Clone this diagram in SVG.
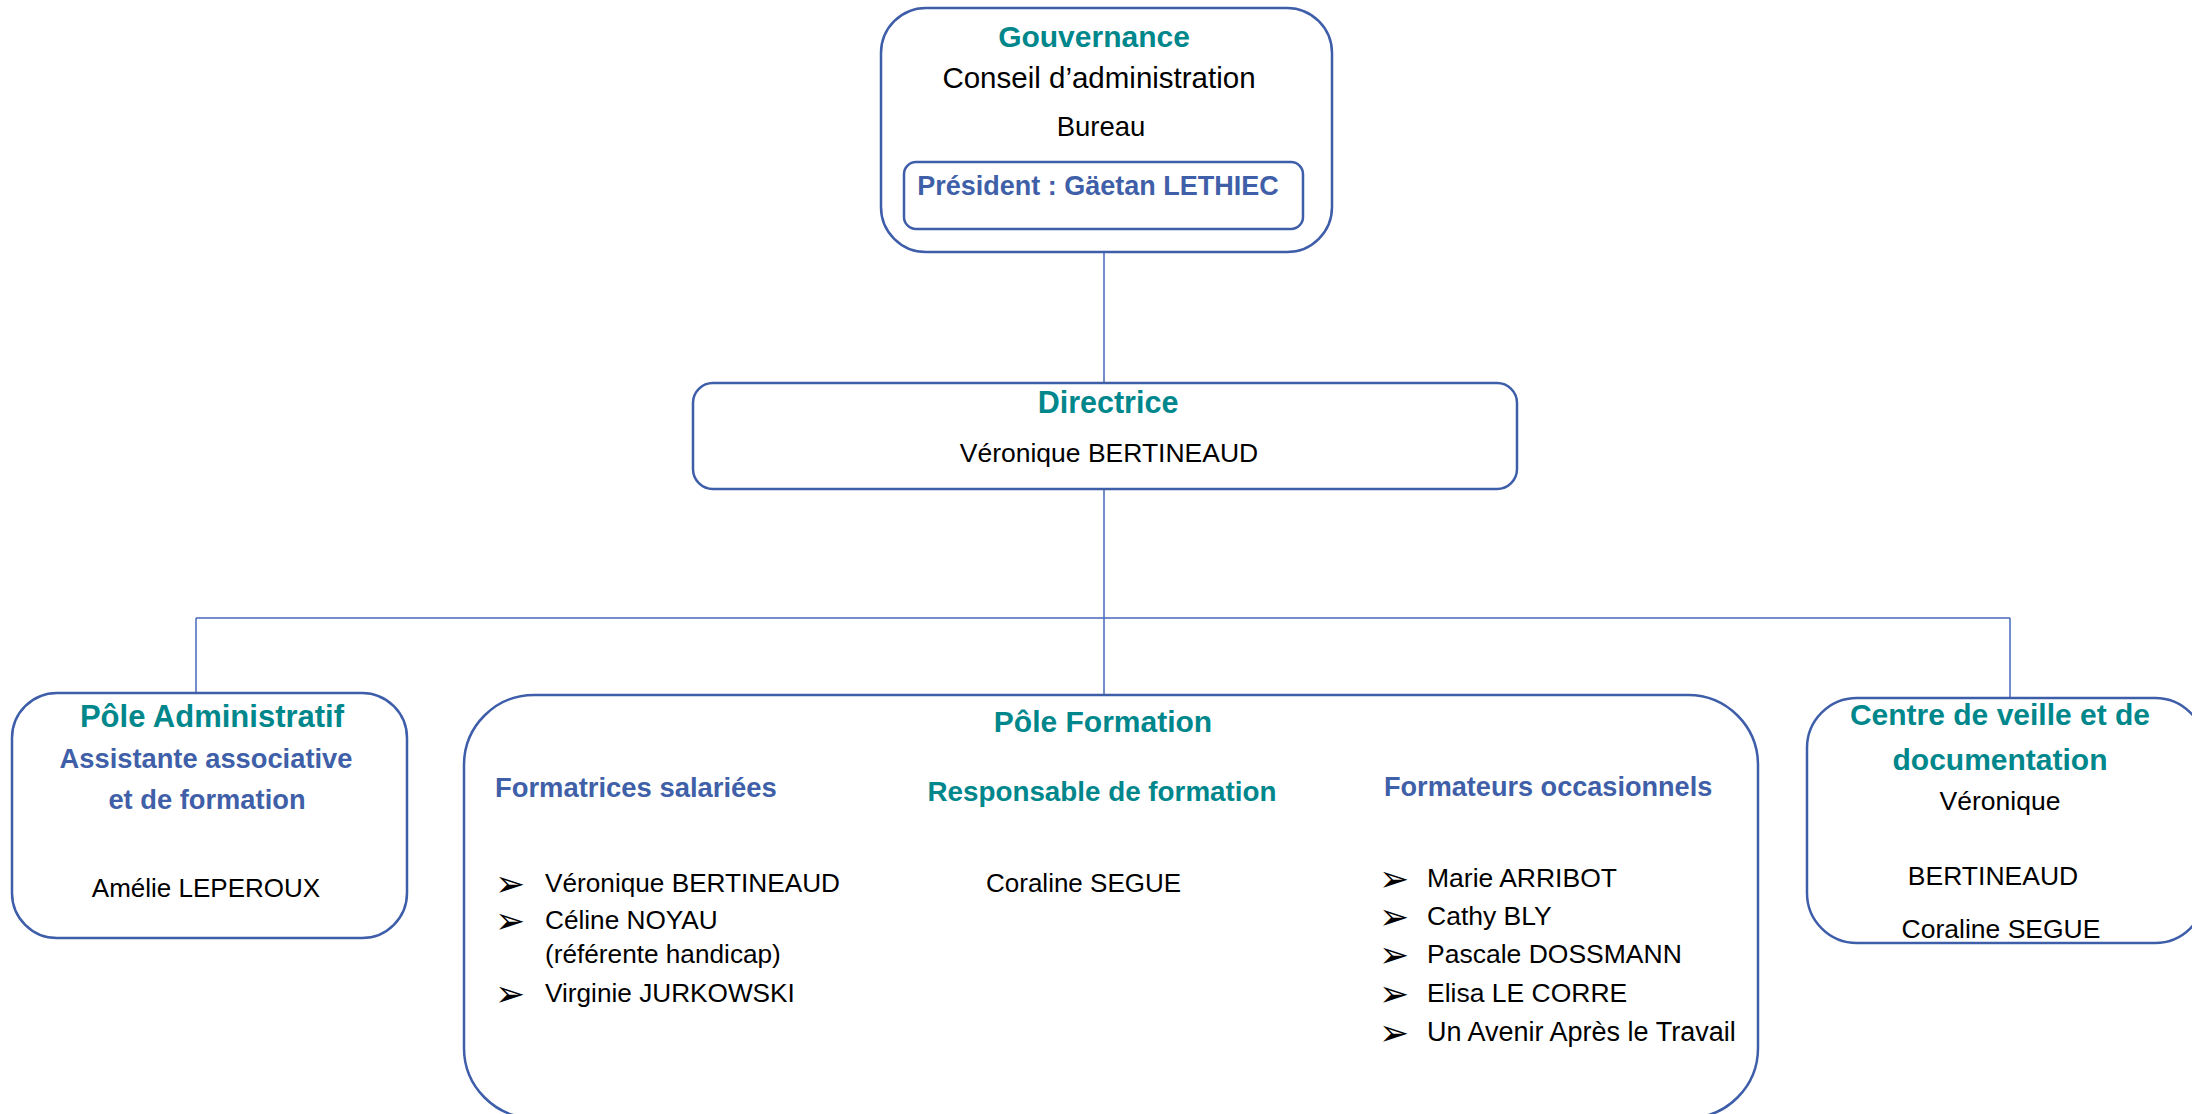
<svg xmlns="http://www.w3.org/2000/svg" width="2192" height="1114" viewBox="0 0 2192 1114">
<style>
.box{fill:#fff;stroke:#3E5EA9;stroke-width:2.5}
.conn{fill:none;stroke:#4468B8;stroke-width:1.5}
text{font-family:"Liberation Sans",Arial,sans-serif}
.teal{fill:#00878C;font-weight:bold}
.blue{fill:#3F5FA8;font-weight:bold}
.body{fill:#000}
.mid{text-anchor:middle}
.bul{font-family:"DejaVu Sans",sans-serif;font-size:36px;fill:#000}
</style>
<rect width="2192" height="1114" fill="#fff"/>
<g id="connectors">
<line class="conn" x1="1104" y1="252" x2="1104" y2="383"/>
<line class="conn" x1="1104" y1="489" x2="1104" y2="695"/>
<line class="conn" x1="196" y1="618" x2="2010" y2="618"/>
<line class="conn" x1="196" y1="618" x2="196" y2="693"/>
<line class="conn" x1="2010" y1="618" x2="2010" y2="698"/>
</g>
<g id="gouvernance">
<rect class="box" x="881" y="8" width="451" height="244" rx="45"/>
<rect class="box" x="904" y="162" width="399" height="67" rx="12"/>
<text class="teal mid" x="1094" y="47" font-size="30">Gouvernance</text>
<text class="body mid" x="1099" y="88" font-size="29.5">Conseil d’administration</text>
<text class="body mid" x="1101" y="136" font-size="27.5">Bureau</text>
<text class="blue mid" x="1098" y="195" font-size="27">Président : Gäetan LETHIEC</text>
</g>
<g id="directrice">
<rect class="box" x="693" y="383" width="824" height="106" rx="20"/>
<text class="teal mid" x="1108" y="413" font-size="30.5">Directrice</text>
<text class="body mid" x="1109" y="462" font-size="26.5">Véronique BERTINEAUD</text>
</g>
<g id="pole-administratif">
<rect class="box" x="12" y="693" width="395" height="245" rx="45"/>
<text class="teal mid" x="212" y="727" font-size="31">Pôle Administratif</text>
<text class="blue mid" x="206" y="768" font-size="27.3">Assistante associative</text>
<text class="blue mid" x="207" y="809" font-size="27.3">et de formation</text>
<text class="body mid" x="206" y="897" font-size="26">Amélie LEPEROUX</text>
</g>
<g id="pole-formation">
<rect class="box" x="464" y="695" width="1294" height="423" rx="70"/>
<text class="teal mid" x="1103" y="732" font-size="30">Pôle Formation</text>
<text class="blue" x="495" y="797" font-size="27.4">Formatrices salariées</text>
<text class="teal mid" x="1102" y="801" font-size="27.8">Responsable de formation</text>
<text class="blue" x="1384" y="796" font-size="27.1">Formateurs occasionnels</text>
<text class="bul" x="495" y="896">➢</text>
<text class="bul" x="495" y="933">➢</text>
<text class="bul" x="495" y="1006">➢</text>
<text class="body" x="545" y="892" font-size="26.2">Véronique BERTINEAUD</text>
<text class="body" x="545" y="929" font-size="26.2">Céline NOYAU</text>
<text class="body" x="545" y="963" font-size="26.2">(référente handicap)</text>
<text class="body" x="545" y="1002" font-size="26.2">Virginie JURKOWSKI</text>
<text class="body" x="986" y="892" font-size="26">Coraline SEGUE</text>
<text class="bul" x="1379" y="891">➢</text>
<text class="bul" x="1379" y="929">➢</text>
<text class="bul" x="1379" y="967">➢</text>
<text class="bul" x="1379" y="1006">➢</text>
<text class="bul" x="1379" y="1045">➢</text>
<text class="body" x="1427" y="887" font-size="26.5">Marie ARRIBOT</text>
<text class="body" x="1427" y="925" font-size="26.5">Cathy BLY</text>
<text class="body" x="1427" y="963" font-size="26.5">Pascale DOSSMANN</text>
<text class="body" x="1427" y="1002" font-size="26.5">Elisa LE CORRE</text>
<text class="body" x="1427" y="1041" font-size="27">Un Avenir Après le Travail</text>
</g>
<g id="centre-veille">
<rect class="box" x="1807" y="698" width="398" height="245" rx="50"/>
<text class="teal mid" x="2000" y="725" font-size="30">Centre de veille et de</text>
<text class="teal mid" x="2000" y="770" font-size="30">documentation</text>
<text class="body mid" x="2000" y="810" font-size="26.5">Véronique</text>
<text class="body mid" x="1993" y="885" font-size="26.5">BERTINEAUD</text>
<text class="body mid" x="2001" y="938" font-size="26.5">Coraline SEGUE</text>
</g>
</svg>
